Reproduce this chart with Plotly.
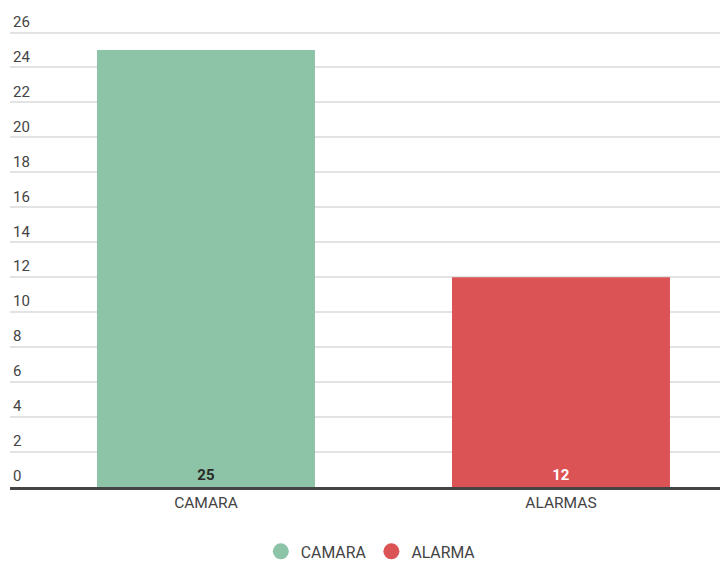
import plotly.graph_objects as go

categorias = ["CAMARA", "ALARMAS"]
valores = [25, 12]
colores = ["#8DC3A7", "#DC5356"]
colores_texto = ["#2A2A2A", "#FFFFFF"]
leyenda_nombres = ["CAMARA", "ALARMA"]
y_ticks = list(range(0, 27, 2))

fig = go.Figure()

# Barras con la etiqueta del valor en la base
fig.add_trace(
    go.Bar(
        x=categorias,
        y=valores,
        marker=dict(color=colores, line=dict(width=0)),
        width=0.614,
        text=valores,
        texttemplate="<b>%{text}</b>",
        textposition="inside",
        insidetextanchor="start",
        textangle=0,
        textfont=dict(color=colores_texto, size=15, family="Roboto"),
        showlegend=False,
        hoverinfo="x+y",
    )
)

# Leyenda con círculos
for nombre, color in zip(leyenda_nombres, colores):
    fig.add_trace(
        go.Scatter(
            x=[None], y=[None],
            mode="markers",
            name=nombre,
            marker=dict(symbol="circle", size=20, color=color),
        )
    )

# la página tiene 8px de margen en el body, se compensa aquí
fig.update_layout(
    width=728,
    height=553,
    margin=dict(l=2, r=0, t=21, b=74, autoexpand=False),
    plot_bgcolor="white",
    paper_bgcolor="white",
    font=dict(family="Roboto", size=15.5, color="#444444"),
    legend=dict(
        orientation="h",
        x=0.497,
        xanchor="center",
        y=-0.141,
        yanchor="middle",
        font=dict(size=15.8, color="#444444"),
        itemsizing="trace",
    ),
)

fig.update_yaxes(
    range=[0, 26.2],
    tickvals=y_ticks,
    ticklabelposition="inside",
    ticklabeloverflow="allow",
    ticklabelshift=-11,
    ticklabelstandoff=0,
    tickfont=dict(size=15, color="#444444"),
    showgrid=True,
    gridcolor="#E3E3E3",
    gridwidth=1.5,
    zeroline=False,
    showline=False,
    ticks="",
    automargin=False,
)

fig.update_xaxes(
    range=[-0.552, 1.493],
    tickfont=dict(size=15.5, color="#444444"),
    showline=True,
    linecolor="#444444",
    linewidth=2.5,
    ticks="",
    showgrid=False,
    automargin=False,
)

fig.write_html("out.html")
